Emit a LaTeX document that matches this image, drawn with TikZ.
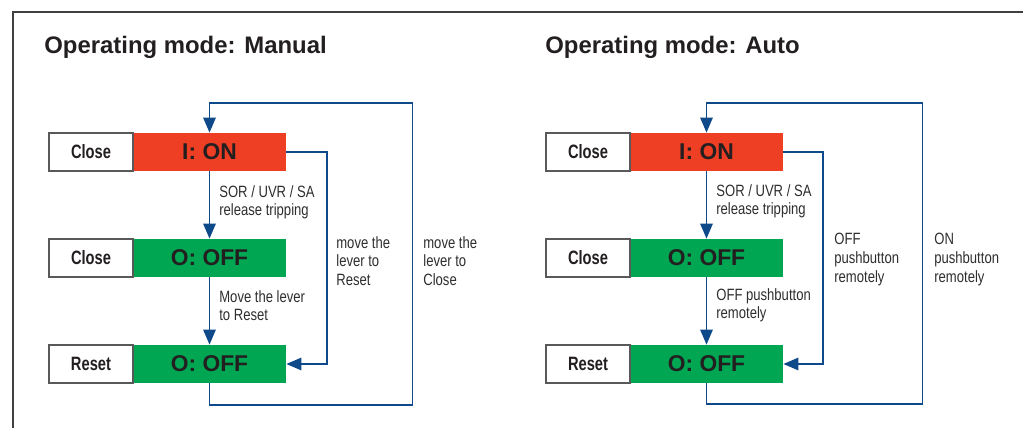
\documentclass[tikz,border=0pt]{standalone}
\usepackage{fontspec}
\setmainfont{Liberation Sans}
\newfontfamily\narrowfont[FakeStretch=0.8]{Liberation Sans}
\newfontfamily\condfont[FakeStretch=0.76]{Liberation Sans}
\usetikzlibrary{arrows.meta}
\definecolor{onred}{RGB}{238,62,36}
\definecolor{offgreen}{RGB}{0,166,81}
\definecolor{linkblue}{RGB}{14,73,138}
\definecolor{inkgray}{RGB}{35,31,32}

\begin{document}
\begin{tikzpicture}[x=0.02cm, y=-0.02cm,
  flow/.style={draw=linkblue, line width=1pt, -{Triangle[length=8.5pt, width=7pt]}},
  labelbox/.style={draw=black!65, line width=0.6pt, fill=white, minimum width=1.68cm, minimum height=0.76cm, inner sep=0pt, font=\condfont\bfseries\fontsize{11}{13}\selectfont, text=inkgray},
  statebox/.style={fill=#1, minimum width=3.06cm, minimum height=0.76cm, inner sep=0pt, font=\bfseries\fontsize{13}{15}\selectfont, text=inkgray},
  note/.style={anchor=north west, inner sep=0pt, align=left, font=\narrowfont\fontsize{9.3}{10.6}\selectfont, text=black!82},
  title/.style={anchor=base west, inner sep=0pt, font=\bfseries\fontsize{13.6}{16}\selectfont, text=inkgray}]
\useasboundingbox (0,0) rectangle (1023,428);
\draw[draw=black!75, line width=0.8pt] (13,428) -- (13,12) -- (1023,12);
\node[title] (mtitle) at (44,54) {Operating mode: Manual};
\node[title] (atitle) at (545,54) {Operating mode: Auto};
\foreach \p/\dx in {m/0, a/497} {
\foreach \r/\y/\lab/\st/\col in {1/152/Close/I: ON/onred, 2/258/Close/O: OFF/offgreen, 3/364/Reset/O: OFF/offgreen} {
\node[statebox=\col] (\p\r) at ({209.5+\dx},\y) {\st};
\node[labelbox] (\p\r lab) at ({91+\dx},\y) {\lab};
}
}
% manual
\draw[flow] (m1) -- (m2);
\draw[flow] (m2) -- (m3);
\draw[flow] (m1.east) -- ++(41,0) |- (m3.east);
\draw[flow] (m3.south) -- ++(0,22) -| ++(203,-302) -| (m1.north);
\node[note] (mn1) at (219,185) {SOR / UVR / SA\\release tripping};
\node[note] (mn2) at (219,290) {Move the lever\\to Reset};
\node[note] (mn3) at (336,236) {move the\\lever to\\Reset};
\node[note] (mn4) at (423,236) {move the\\lever to\\Close};
% auto
\draw[flow] (a1) -- (a2);
\draw[flow] (a2) -- (a3);
\draw[flow] (a1.east) -- ++(40,0) |- (a3.east);
\draw[flow] (a3.south) -- ++(0,21) -| ++(216,-301) -| (a1.north);
\node[note] (an1) at (716,184) {SOR / UVR / SA\\release tripping};
\node[note] (an2) at (716,288) {OFF pushbutton\\remotely};
\node[note] (an3) at (834,233) {OFF\\pushbutton\\remotely};
\node[note] (an4) at (934,233) {ON\\pushbutton\\remotely};
\end{tikzpicture}
\end{document}
